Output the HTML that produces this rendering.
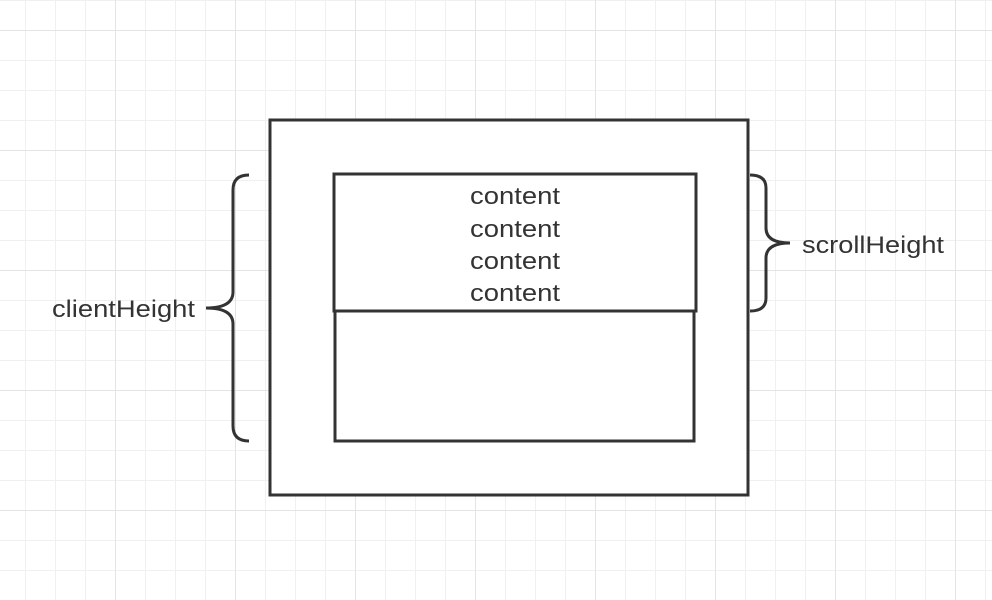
<!DOCTYPE html>
<html><head><style>
body{margin:0;width:992px;height:600px;overflow:hidden;background:#fff}
svg{display:block}
text{font-family:"Liberation Sans",sans-serif;font-size:24px;fill:#333}
</style></head><body>
<svg width="992" height="600" viewBox="0 0 992 600">
<defs>
<pattern id="g" x="25" y="0" width="30" height="30" patternUnits="userSpaceOnUse">
<path d="M0 0V30M0 0H30" stroke="#f0f0f0" stroke-width="2" fill="none"/>
</pattern>
<pattern id="G" x="115" y="30" width="120" height="120" patternUnits="userSpaceOnUse">
<path d="M0 0V120M0 0H120" stroke="#e4e4e4" stroke-width="2" fill="none"/>
</pattern>
</defs>
<rect width="992" height="600" fill="url(#g)"/>
<rect width="992" height="600" fill="url(#G)"/>
<g stroke="#333" stroke-width="3" fill="none">
<rect x="270" y="120" width="478" height="375" fill="#fff"/>
<rect x="334" y="174" width="362" height="137"/>
<rect x="335" y="311" width="359" height="130"/>
<path d="M249 175 Q233 175 233 190 V292 Q233 308 206 308 Q233 308 233 324 V426 Q233 441 249 441"/>
<path d="M750 175 Q766 175 766 188 V228 Q766 243 790 243 Q766 243 766 258 V298 Q766 311 750 311"/>
</g>
<text x="470" y="204" textLength="90" lengthAdjust="spacingAndGlyphs">content</text>
<text x="470" y="237" textLength="90" lengthAdjust="spacingAndGlyphs">content</text>
<text x="470" y="269" textLength="90" lengthAdjust="spacingAndGlyphs">content</text>
<text x="470" y="301" textLength="90" lengthAdjust="spacingAndGlyphs">content</text>
<text x="52" y="317" textLength="143" lengthAdjust="spacingAndGlyphs">clientHeight</text>
<text x="802" y="253" textLength="142" lengthAdjust="spacingAndGlyphs">scrollHeight</text>
</svg>
</body></html>
